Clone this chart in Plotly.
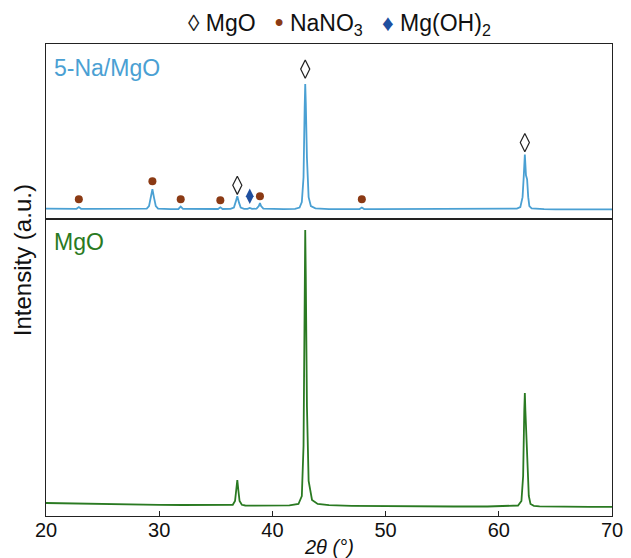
import plotly.graph_objects as go

# ---- data ----
x_top = [20, 21, 22, 22.7, 22.9, 23.1, 24, 25, 26, 27, 28, 28.9, 29.1, 29.25, 29.4, 29.55, 29.7, 29.9,
         30.5, 31, 31.7, 31.9, 32.1, 33, 34, 35.2, 35.4, 35.6, 36.3, 36.6, 36.75, 36.9, 37.05, 37.2,
         37.5, 37.8, 38.0, 38.2, 38.6, 38.8, 38.9, 39.0, 39.2, 40, 41, 42.0, 42.4, 42.6, 42.75, 42.85,
         42.9, 42.95, 43.05, 43.2, 43.4, 43.8, 44.5, 45, 46, 47, 47.7, 47.9, 48.1, 49, 50, 51, 52, 53,
         54, 55, 55.5, 56, 57, 58, 59, 60, 61, 61.6, 61.9, 62.1, 62.2, 62.3, 62.4, 62.5, 62.6, 62.7,
         62.9, 63.3, 64, 65, 66, 67, 68, 69, 70]
y_top = [85, 84, 83, 83, 100, 83, 82, 82, 81, 81, 81, 85, 110, 200, 280, 190, 110, 85,
         81, 80, 81, 105, 82, 80, 80, 81, 98, 81, 82, 95, 150, 210, 145, 95,
         83, 82, 92, 82, 84, 110, 140, 110, 84, 80, 80, 82, 95, 150, 400, 1100,
         1340, 1150, 600, 200, 110, 88, 82, 80, 79, 79, 80, 95, 80, 79, 79, 78, 78, 78,
         78, 79, 84, 79, 78, 78, 78, 79, 80, 84, 100, 200, 400, 630, 420, 380, 200, 110,
         88, 82, 79, 78, 78, 78, 78, 78, 78]

x_bot = [20, 22, 25, 28, 30, 32, 34, 36, 36.5, 36.7, 36.8, 36.9, 37.0, 37.1, 37.3, 37.6, 38, 40,
         41.5, 42.3, 42.6, 42.75, 42.85, 42.9, 42.95, 43.05, 43.2, 43.5, 44, 45, 47, 50, 53, 56,
         59, 61, 61.7, 62.0, 62.15, 62.25, 62.3, 62.35, 62.45, 62.55, 62.65, 62.8, 63.1, 63.6,
         65, 68, 70]
y_bot = [130, 125, 120, 115, 112, 110, 108, 108, 112, 150, 260, 360, 250, 150, 112, 105, 104, 103,
         106, 120, 200, 700, 2300, 2860, 2400, 1100, 350, 160, 120, 108, 102, 98, 96, 95,
         95, 97, 105, 150, 400, 1050, 1230, 1050, 800, 500, 200, 120, 102, 96,
         93, 92, 92]

mgo_x = [36.9, 42.9, 62.3]
mgo_y = [320, 1490, 750]
nano3_x = [22.9, 29.4, 31.9, 35.4, 38.9, 47.9]
nano3_y = [180, 360, 180, 170, 210, 180]
mgoh_x = [38.0]
mgoh_y = [210]

x_ticks = [20, 30, 40, 50, 60, 70]

BLUE = "#4aa0d3"
GREEN = "#2a7a22"
BROWN = "#8b3a14"
NAVY = "#1f4f9f"
AXC = "#222222"
TXT = "#111111"
FONT = "Liberation Sans, Arial, sans-serif"

fig = go.Figure()
fig.add_trace(go.Scatter(x=x_bot, y=y_bot, mode="lines", line=dict(color=GREEN, width=1.8),
                         name="MgO", showlegend=False, xaxis="x", yaxis="y"))
fig.add_trace(go.Scatter(x=x_top, y=y_top, mode="lines", line=dict(color=BLUE, width=1.8),
                         name="5-Na/MgO", showlegend=False, xaxis="x2", yaxis="y2"))
fig.add_trace(go.Scatter(x=mgo_x, y=mgo_y, mode="markers", name="MgO", showlegend=False,
                         marker=dict(symbol="diamond-tall-open", size=13, color=AXC,
                                     line=dict(width=1.2, color=AXC)),
                         xaxis="x2", yaxis="y2"))
fig.add_trace(go.Scatter(x=nano3_x, y=nano3_y, mode="markers", name="NaNO<sub>3</sub>",
                         showlegend=False, marker=dict(symbol="circle", size=8, color=BROWN),
                         xaxis="x2", yaxis="y2"))
fig.add_trace(go.Scatter(x=mgoh_x, y=mgoh_y, mode="markers", name="Mg(OH)<sub>2</sub>",
                         showlegend=False, marker=dict(symbol="diamond-tall", size=11, color=NAVY),
                         xaxis="x2", yaxis="y2"))

W, H = 623, 550
L, R, T, B = 38, 19, 36, 42
PW, PH = W - L - R, H - T - B
split = 0.629
common = dict(showline=True, linecolor=AXC, linewidth=1.4, mirror=True,
              showgrid=False, zeroline=False, automargin=False)

legend_text = (f"<span style='color:{AXC}'>◊</span> MgO   "
               f"<span style='color:{BROWN};font-size:25px'>•</span> NaNO<sub>3</sub>   "
               f"<span style='color:{NAVY}'>♦</span> Mg(OH)<sub>2</sub>")

fig.update_layout(
    width=W, height=H,
    margin=dict(l=L, r=R, t=T, b=B),
    plot_bgcolor="white", paper_bgcolor="white",
    font=dict(family=FONT, size=20, color=TXT),
    showlegend=False,
    xaxis=dict(domain=[0, 1], range=[20, 70], tickvals=x_ticks, ticks="inside", ticklen=5,
               tickcolor=AXC, tickwidth=1.3, anchor="y", tickfont=dict(size=20),
               ticklabelstandoff=-4, **common),
    yaxis=dict(domain=[0, split], range=[0, 2970], showticklabels=False, ticks="", anchor="x",
               **common),
    xaxis2=dict(domain=[0, 1], range=[20, 70], showticklabels=False, ticks="", anchor="y2",
                matches="x", **common),
    yaxis2=dict(domain=[split, 1], range=[-21, 1743], showticklabels=False, ticks="", anchor="x2",
                **common),
    annotations=[
        dict(text=legend_text, x=0.519, y=1 + 21 / PH, xref="paper", yref="paper",
             xanchor="center", yanchor="middle", showarrow=False, font=dict(size=23, color=TXT)),
        dict(text="5-Na/MgO", x=0.0106, y=1 - 24 / PH, xref="paper", yref="paper", xanchor="left",
             yanchor="middle", showarrow=False, font=dict(size=23, color=BLUE)),
        dict(text="MgO", x=0.0106, y=0.5805, xref="paper", yref="paper", xanchor="left",
             yanchor="middle", showarrow=False, font=dict(size=23, color=GREEN)),
        dict(text="Intensity (a.u.)", x=-24 / PW, y=0.542, xref="paper", yref="paper",
             xanchor="center", yanchor="middle", textangle=-90, showarrow=False,
             font=dict(size=24)),
        dict(text="<i>2θ (°)</i>", x=0.5, y=-31 / PH, xref="paper", yref="paper",
             xanchor="center", yanchor="middle", showarrow=False, font=dict(size=20)),
    ],
)

fig.write_html("out.html")
